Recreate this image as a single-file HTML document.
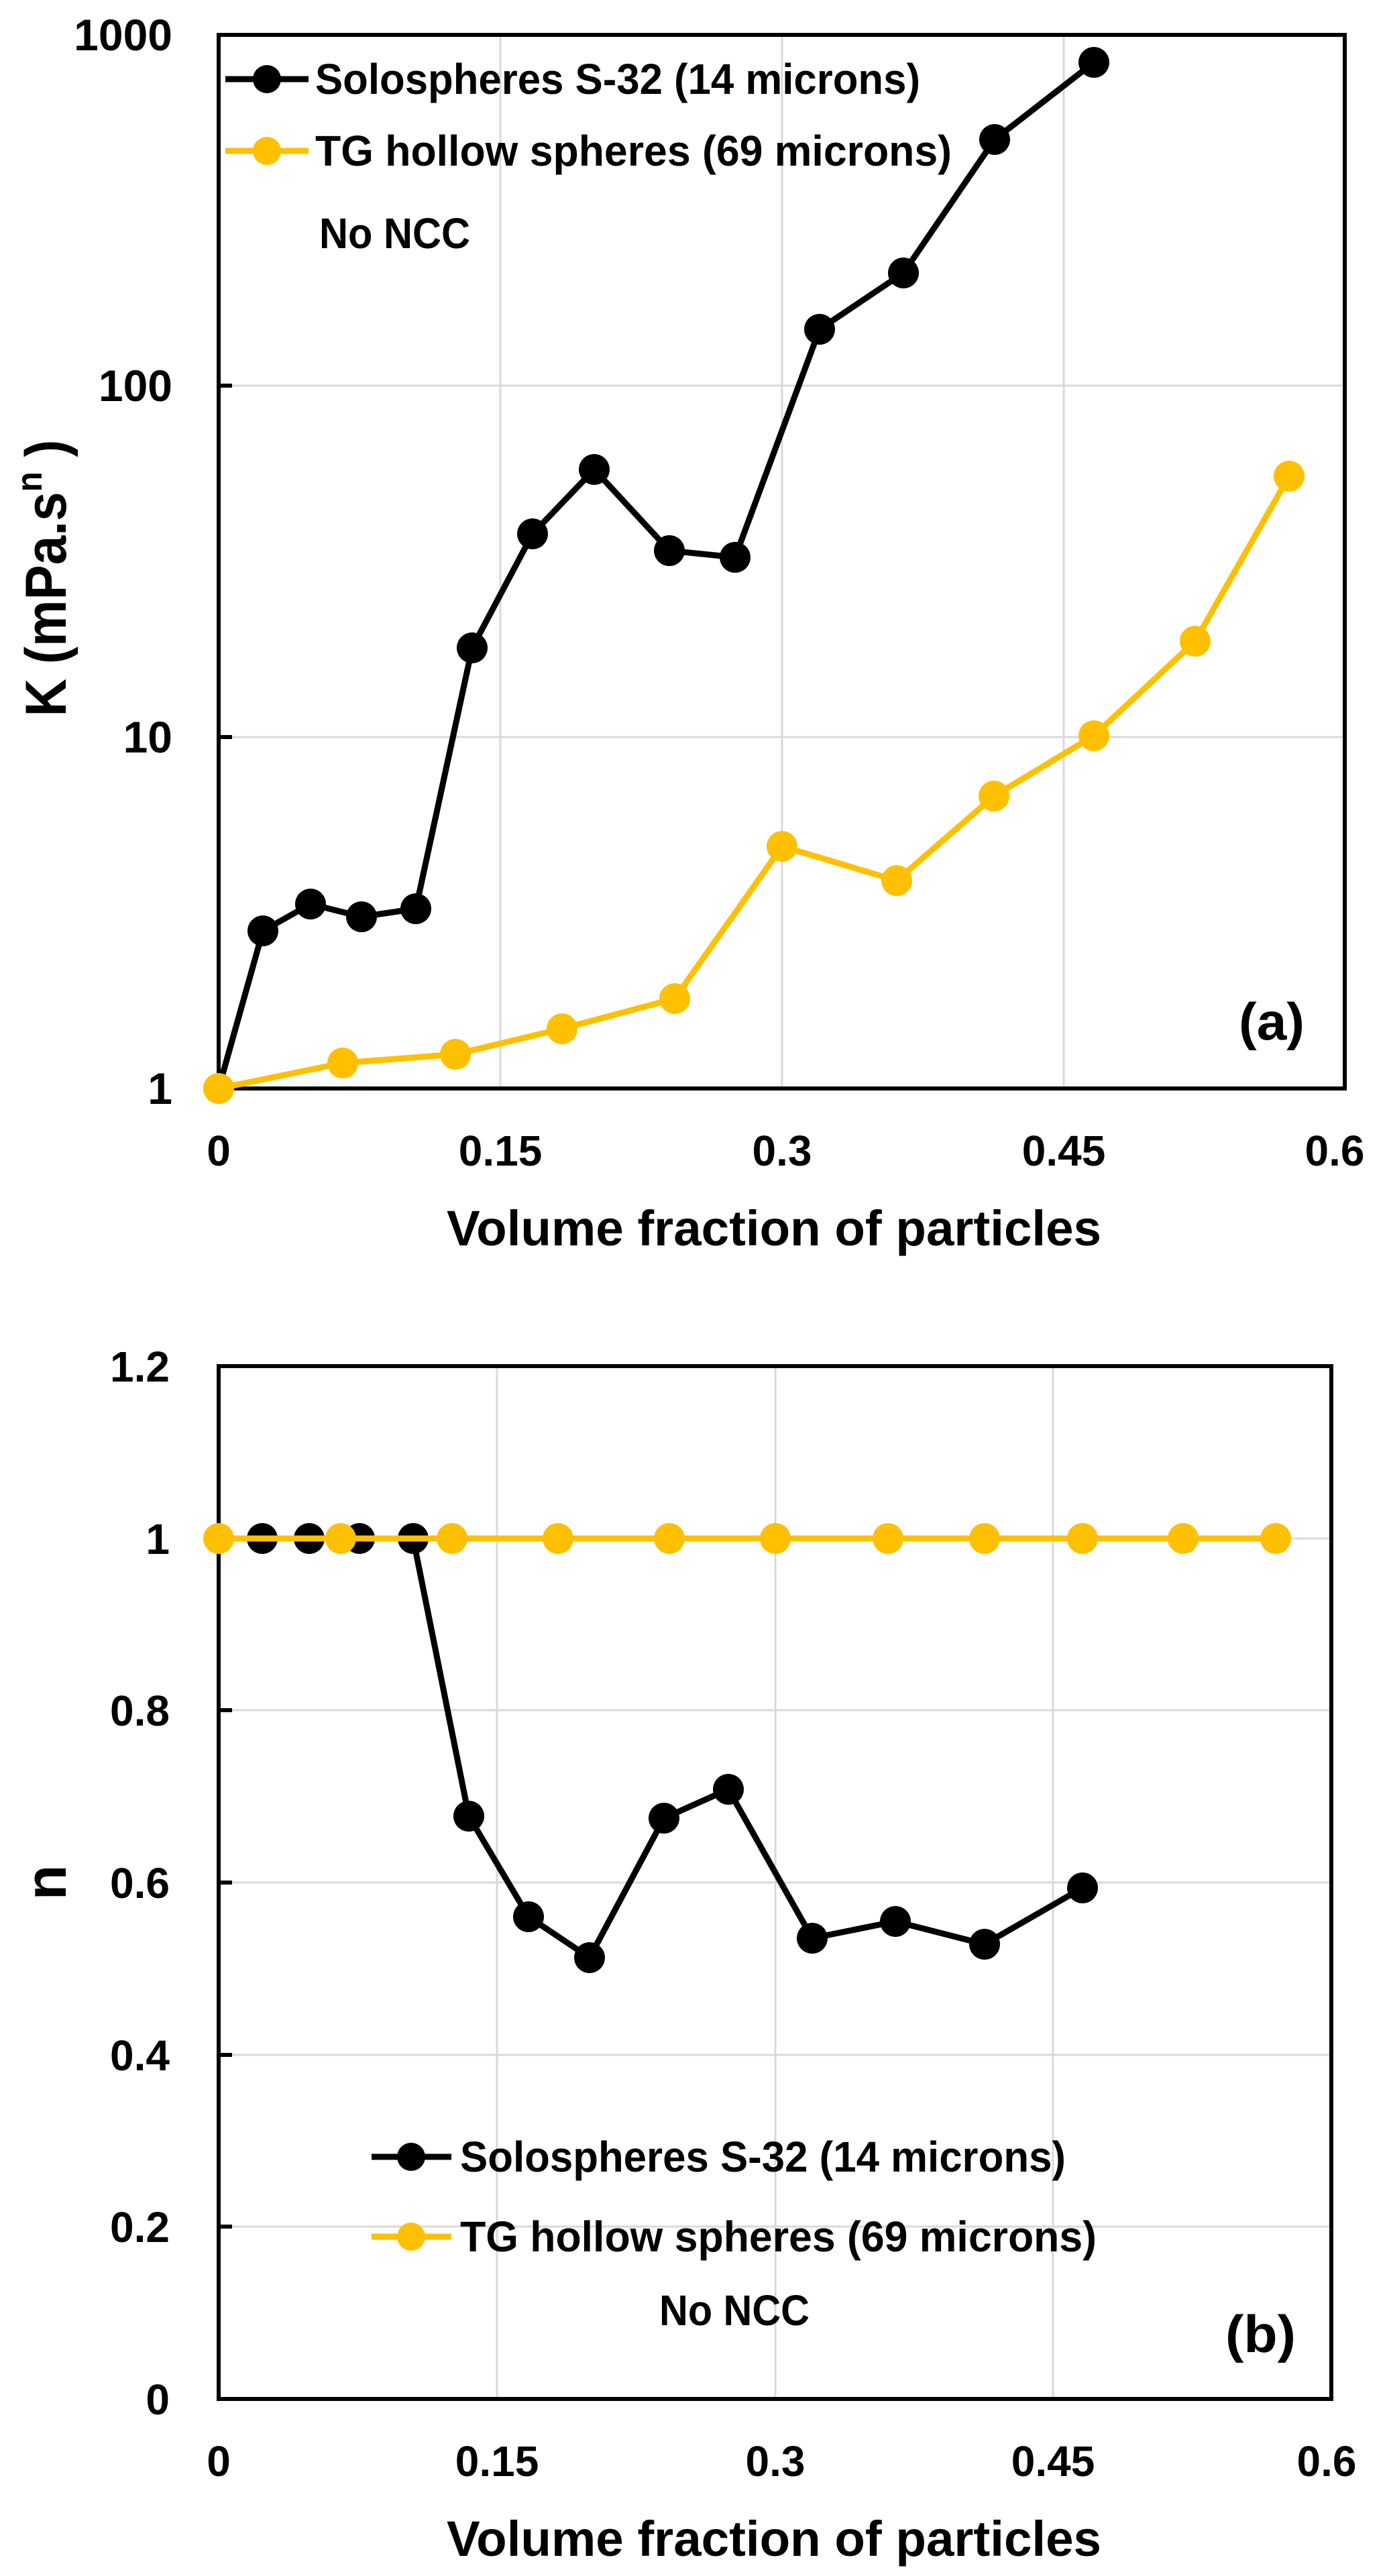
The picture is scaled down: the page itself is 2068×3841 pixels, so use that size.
<!DOCTYPE html>
<html><head><meta charset="utf-8"><style>
html,body{margin:0;padding:0;background:#fff;}
svg{display:block;}
text{font-family:"Liberation Sans",sans-serif;font-weight:bold;fill:#000;}
</style></head><body>
<svg width="2068" height="3841" viewBox="0 0 2068 3841" xmlns="http://www.w3.org/2000/svg">
<rect width="2068" height="3841" fill="#fff"/>
<!-- ===== TOP CHART ===== -->
<g stroke="#d9d9d9" stroke-width="3">
<line x1="746" y1="52" x2="746" y2="1623"/><line x1="1166" y1="52" x2="1166" y2="1623"/><line x1="1586" y1="52" x2="1586" y2="1623"/>
<line x1="326" y1="1099" x2="2005" y2="1099"/><line x1="326" y1="575" x2="2005" y2="575"/>
</g>
<g stroke="#000" stroke-width="6"><line x1="326" y1="575" x2="346" y2="575"/><line x1="326" y1="1099" x2="346" y2="1099"/></g>
<rect x="326" y="52" width="1679" height="1571" fill="none" stroke="#000" stroke-width="6"/>
<g font-size="66" text-anchor="end">
<text x="257" y="75">1000</text><text x="257" y="598">100</text><text x="257" y="1122">10</text><text x="257" y="1646">1</text>
</g>
<g font-size="64" text-anchor="middle">
<text x="326" y="1738">0</text><text x="746" y="1738">0.15</text><text x="1166" y="1738">0.3</text><text x="1586" y="1738">0.45</text><text x="1990" y="1738">0.6</text>
</g>
<text x="1154" y="1857" font-size="74" text-anchor="middle" textLength="976" lengthAdjust="spacingAndGlyphs">Volume fraction of particles</text>
<text transform="translate(98,862) rotate(-90)" font-size="86" text-anchor="middle" textLength="413" lengthAdjust="spacingAndGlyphs">K (mPa.s<tspan font-size="54" dy="-36">n</tspan><tspan dy="36"> )</tspan></text>
<polyline fill="none" stroke="#FFC000" stroke-width="9" points="326,1623 511,1585 679,1572 838,1534 1006,1489 1166,1262 1337,1313 1482,1187 1631,1097 1782,956 1922,710"/>
<g fill="#FFC000">
<circle cx="326" cy="1623" r="23"/><circle cx="511" cy="1585" r="23"/><circle cx="679" cy="1572" r="23"/><circle cx="838" cy="1534" r="23"/><circle cx="1006" cy="1489" r="23"/><circle cx="1166" cy="1262" r="23"/><circle cx="1337" cy="1313" r="23"/><circle cx="1482" cy="1187" r="23"/><circle cx="1631" cy="1097" r="23"/><circle cx="1782" cy="956" r="23"/><circle cx="1922" cy="710" r="23"/>
</g>
<polyline fill="none" stroke="#000" stroke-width="9" points="326,1623 392,1388 463,1348 539,1367 620,1355 704,966 794,796 886,700 998,821 1096,831 1222,491 1347,407 1483,208 1631,93"/>
<g fill="#000">
<circle cx="392" cy="1388" r="23"/><circle cx="463" cy="1348" r="23"/><circle cx="539" cy="1367" r="23"/><circle cx="620" cy="1355" r="23"/><circle cx="704" cy="966" r="23"/><circle cx="794" cy="796" r="23"/><circle cx="886" cy="700" r="23"/><circle cx="998" cy="821" r="23"/><circle cx="1096" cy="831" r="23"/><circle cx="1222" cy="491" r="23"/><circle cx="1347" cy="407" r="23"/><circle cx="1483" cy="208" r="23"/><circle cx="1631" cy="93" r="23"/>
</g>
<circle cx="326" cy="1623" r="23" fill="#FFC000"/>
<!-- legend top -->
<line x1="336" y1="118" x2="460" y2="118" stroke="#000" stroke-width="9"/><circle cx="398" cy="118" r="21" fill="#000"/>
<text x="470" y="140" font-size="64" textLength="902" lengthAdjust="spacingAndGlyphs">Solospheres S-32 (14 microns)</text>
<line x1="336" y1="225" x2="460" y2="225" stroke="#FFC000" stroke-width="9"/><circle cx="398" cy="225" r="21" fill="#FFC000"/>
<text x="470" y="247" font-size="64" textLength="949" lengthAdjust="spacingAndGlyphs">TG hollow spheres (69 microns)</text>
<text x="476" y="370" font-size="64" textLength="225" lengthAdjust="spacingAndGlyphs">No NCC</text>
<text x="1847" y="1550" font-size="78" textLength="98" lengthAdjust="spacingAndGlyphs">(a)</text>

<!-- ===== BOTTOM CHART ===== -->
<g stroke="#d9d9d9" stroke-width="3">
<line x1="741" y1="2037" x2="741" y2="3577"/><line x1="1156" y1="2037" x2="1156" y2="3577"/><line x1="1570" y1="2037" x2="1570" y2="3577"/>
<line x1="326" y1="3320" x2="1985" y2="3320"/><line x1="326" y1="3064" x2="1985" y2="3064"/><line x1="326" y1="2807" x2="1985" y2="2807"/><line x1="326" y1="2550" x2="1985" y2="2550"/><line x1="326" y1="2294" x2="1985" y2="2294"/>
</g>
<g stroke="#000" stroke-width="6"><line x1="326" y1="3320" x2="346" y2="3320"/><line x1="326" y1="3064" x2="346" y2="3064"/><line x1="326" y1="2807" x2="346" y2="2807"/><line x1="326" y1="2550" x2="346" y2="2550"/><line x1="326" y1="2294" x2="346" y2="2294"/></g>
<rect x="326" y="2037" width="1659" height="1540" fill="none" stroke="#000" stroke-width="6"/>
<g font-size="64" text-anchor="end">
<text x="253" y="2060">1.2</text><text x="253" y="2317">1</text><text x="253" y="2573">0.8</text><text x="253" y="2830">0.6</text><text x="253" y="3087">0.4</text><text x="253" y="3343">0.2</text><text x="253" y="3600">0</text>
</g>
<g font-size="64" text-anchor="middle">
<text x="326" y="3692">0</text><text x="741" y="3692">0.15</text><text x="1156" y="3692">0.3</text><text x="1570" y="3692">0.45</text><text x="1978" y="3692">0.6</text>
</g>
<text x="1154" y="3811" font-size="74" text-anchor="middle" textLength="976" lengthAdjust="spacingAndGlyphs">Volume fraction of particles</text>
<text transform="translate(98,2807) rotate(-90)" font-size="86" text-anchor="middle">n</text>
<polyline fill="none" stroke="#000" stroke-width="9" points="391,2294 461,2294 536,2294 616,2294 699,2708 788,2858 879,2919 990,2711 1086,2668 1211,2890 1335,2865 1468,2899 1614,2815"/>
<g fill="#000">
<circle cx="391" cy="2294" r="23"/><circle cx="461" cy="2294" r="23"/><circle cx="536" cy="2294" r="23"/><circle cx="616" cy="2294" r="23"/><circle cx="699" cy="2708" r="23"/><circle cx="788" cy="2858" r="23"/><circle cx="879" cy="2919" r="23"/><circle cx="990" cy="2711" r="23"/><circle cx="1086" cy="2668" r="23"/><circle cx="1211" cy="2890" r="23"/><circle cx="1335" cy="2865" r="23"/><circle cx="1468" cy="2899" r="23"/><circle cx="1614" cy="2815" r="23"/>
</g>
<line x1="326" y1="2294" x2="1902" y2="2294" stroke="#FFC000" stroke-width="9"/>
<g fill="#FFC000">
<circle cx="326" cy="2294" r="23"/><circle cx="508" cy="2294" r="23"/><circle cx="674" cy="2294" r="23"/><circle cx="832" cy="2294" r="23"/><circle cx="998" cy="2294" r="23"/><circle cx="1156" cy="2294" r="23"/><circle cx="1324" cy="2294" r="23"/><circle cx="1468" cy="2294" r="23"/><circle cx="1614" cy="2294" r="23"/><circle cx="1764" cy="2294" r="23"/><circle cx="1902" cy="2294" r="23"/>
</g>
<!-- legend bottom -->
<line x1="554" y1="3216" x2="673" y2="3216" stroke="#000" stroke-width="9"/><circle cx="613" cy="3216" r="21" fill="#000"/>
<text x="686" y="3238" font-size="64" textLength="903" lengthAdjust="spacingAndGlyphs">Solospheres S-32 (14 microns)</text>
<line x1="554" y1="3335" x2="673" y2="3335" stroke="#FFC000" stroke-width="9"/><circle cx="613" cy="3335" r="21" fill="#FFC000"/>
<text x="686" y="3357" font-size="64" textLength="949" lengthAdjust="spacingAndGlyphs">TG hollow spheres (69 microns)</text>
<text x="983" y="3467" font-size="64" textLength="224" lengthAdjust="spacingAndGlyphs">No NCC</text>
<text x="1827" y="3507" font-size="78" textLength="105" lengthAdjust="spacingAndGlyphs">(b)</text>
</svg>
</body></html>
